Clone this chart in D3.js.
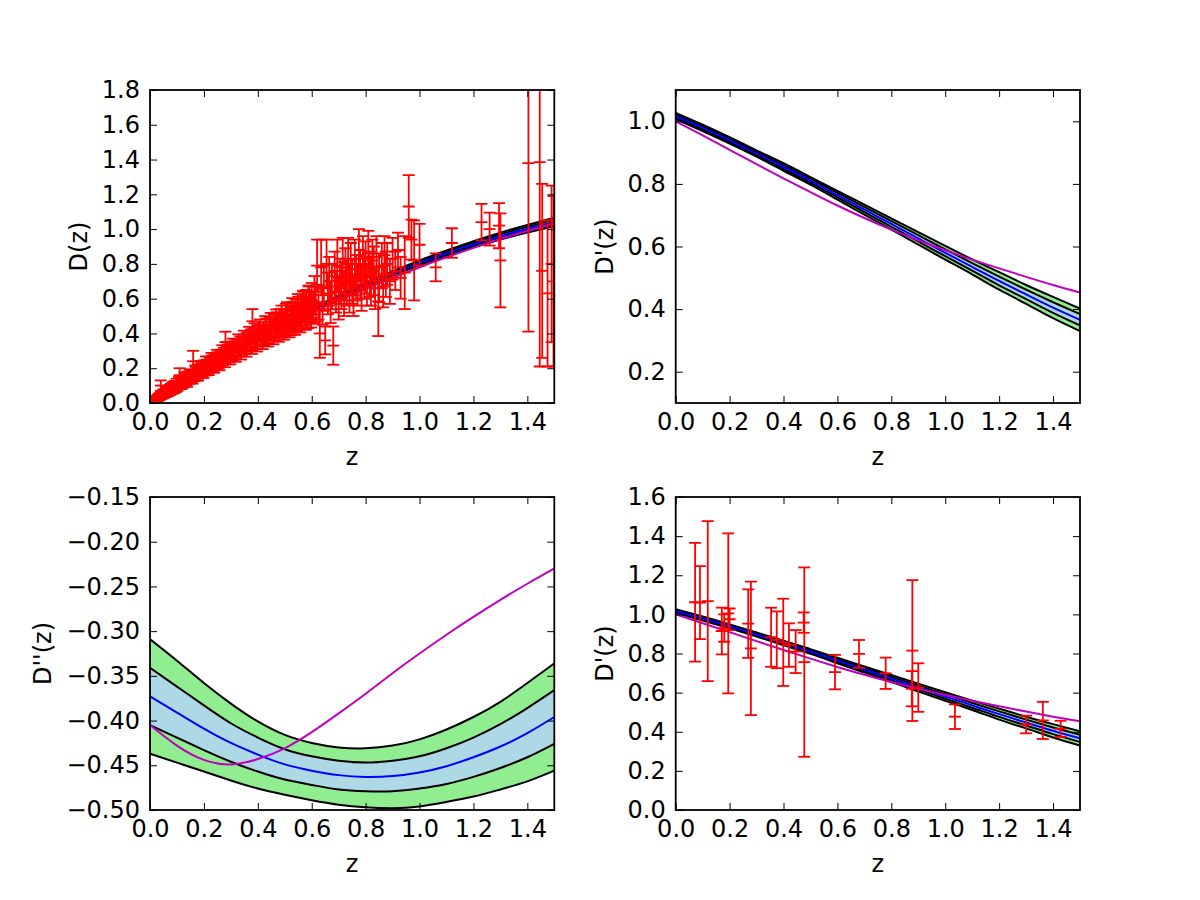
<!DOCTYPE html>
<html>
<head>
<meta charset="utf-8">
<title>D(z) reconstruction</title>
<script src="https://cdn.jsdelivr.net/npm/d3@7"></script>
<style>
  body { margin: 0; background: #fff; }
  svg { font-family: "DejaVu Sans", sans-serif; }
</style>
</head>
<body>
<svg id="fig" width="1200" height="900"></svg>
<script>
// redshift grid the reconstructions are sampled on
var zGrid = [0.0, 0.1, 0.2, 0.3, 0.4, 0.5, 0.6, 0.7, 0.8, 0.9, 1.0, 1.1, 1.2, 1.3, 1.4, 1.5];

// D(z): 2-sigma / 1-sigma bands, median and model
var dU2  = [0, 0.101, 0.198, 0.290, 0.379, 0.464, 0.543, 0.619, 0.690, 0.757, 0.820, 0.877, 0.931, 0.980, 1.024, 1.065];
var dU1  = [0, 0.1005, 0.197, 0.2885, 0.377, 0.461, 0.540, 0.615, 0.685, 0.751, 0.813, 0.869, 0.922, 0.970, 1.013, 1.053];
var dMed = [0, 0.100, 0.196, 0.287, 0.375, 0.458, 0.537, 0.611, 0.680, 0.745, 0.806, 0.861, 0.913, 0.960, 1.002, 1.041];
var dL1  = [0, 0.0995, 0.195, 0.2855, 0.373, 0.455, 0.534, 0.607, 0.675, 0.739, 0.799, 0.853, 0.904, 0.950, 0.991, 1.029];
var dL2  = [0, 0.099, 0.194, 0.284, 0.371, 0.452, 0.531, 0.603, 0.670, 0.733, 0.792, 0.845, 0.895, 0.940, 0.980, 1.017];
var dModel = [0, 0.098, 0.191, 0.279, 0.363, 0.443, 0.518, 0.589, 0.657, 0.720, 0.781, 0.838, 0.892, 0.943, 0.989, 1.033];

// D'(z)
var dpU2  = [1.027, 0.989, 0.949, 0.907, 0.866, 0.822, 0.778, 0.734, 0.690, 0.646, 0.602, 0.559, 0.518, 0.477, 0.439, 0.402];
var dpU1  = [1.022, 0.984, 0.944, 0.902, 0.860, 0.816, 0.771, 0.726, 0.681, 0.636, 0.591, 0.547, 0.504, 0.462, 0.422, 0.384];
var dpMed = [1.017, 0.979, 0.939, 0.897, 0.854, 0.810, 0.764, 0.718, 0.672, 0.626, 0.580, 0.535, 0.490, 0.447, 0.405, 0.366];
var dpL1  = [1.012, 0.974, 0.934, 0.892, 0.848, 0.804, 0.757, 0.710, 0.663, 0.616, 0.569, 0.523, 0.476, 0.432, 0.388, 0.348];
var dpL2  = [1.007, 0.969, 0.929, 0.887, 0.842, 0.798, 0.750, 0.702, 0.654, 0.606, 0.558, 0.511, 0.462, 0.417, 0.371, 0.330];
var dpModel = [1.000, 0.955, 0.909, 0.863, 0.818, 0.774, 0.731, 0.691, 0.654, 0.620, 0.588, 0.558, 0.530, 0.503, 0.477, 0.453];

// D''(z)
var ddpU2  = [-0.309, -0.333, -0.358, -0.381, -0.401, -0.416, -0.425, -0.430, -0.431, -0.428, -0.421, -0.410, -0.396, -0.379, -0.358, -0.336];
var ddpU1  = [-0.341, -0.362, -0.383, -0.403, -0.419, -0.432, -0.440, -0.445, -0.447, -0.445, -0.440, -0.431, -0.419, -0.404, -0.386, -0.366];
var ddpMed = [-0.373, -0.391, -0.409, -0.425, -0.438, -0.449, -0.456, -0.461, -0.463, -0.462, -0.458, -0.451, -0.441, -0.429, -0.414, -0.396];
var ddpL1  = [-0.405, -0.419, -0.433, -0.446, -0.457, -0.466, -0.472, -0.477, -0.479, -0.479, -0.476, -0.471, -0.463, -0.453, -0.441, -0.426];
var ddpL2  = [-0.437, -0.447, -0.457, -0.467, -0.476, -0.483, -0.489, -0.494, -0.497, -0.498, -0.496, -0.491, -0.485, -0.477, -0.468, -0.456];
var ddpModel = [-0.405, -0.428, -0.444, -0.449, -0.443, -0.431, -0.413, -0.392, -0.370, -0.347, -0.325, -0.304, -0.284, -0.265, -0.247, -0.230];

// supernova distances [z, D, sigma]
var sneData = [
  [0.012,0.010,0.008],[0.015,0.016,0.012],[0.017,0.014,0.010],[0.019,0.017,0.010],[0.020,0.022,0.012],
  [0.022,0.019,0.011],[0.024,0.026,0.013],[0.026,0.023,0.012],[0.027,0.028,0.011],[0.028,0.031,0.014],
  [0.030,0.027,0.013],[0.032,0.035,0.015],[0.033,0.038,0.014],[0.034,0.030,0.013],[0.036,0.041,0.016],
  [0.038,0.034,0.014],[0.040,0.100,0.030],[0.042,0.046,0.015],[0.043,0.039,0.015],[0.045,0.050,0.018],
  [0.047,0.041,0.014],[0.048,0.045,0.016],[0.050,0.057,0.020],[0.052,0.056,0.016],[0.053,0.049,0.017],
  [0.056,0.061,0.019],[0.058,0.052,0.018],[0.060,0.070,0.020],[0.061,0.066,0.021],[0.064,0.058,0.019],
  [0.066,0.072,0.023],[0.067,0.061,0.018],[0.069,0.063,0.020],[0.072,0.077,0.022],[0.073,0.082,0.022],
  [0.075,0.068,0.021],[0.078,0.085,0.025],[0.081,0.074,0.022],[0.083,0.088,0.021],[0.085,0.094,0.026],
  [0.088,0.079,0.023],[0.090,0.097,0.024],[0.092,0.101,0.027],[0.095,0.086,0.024],[0.097,0.092,0.026],
  [0.099,0.110,0.030],[0.102,0.095,0.025],[0.105,0.104,0.020],[0.108,0.122,0.028],[0.110,0.160,0.040],
  [0.115,0.110,0.030],[0.118,0.108,0.024],[0.120,0.125,0.022],[0.125,0.117,0.028],[0.128,0.146,0.030],
  [0.130,0.138,0.030],[0.135,0.128,0.025],[0.138,0.121,0.028],[0.140,0.145,0.035],[0.145,0.137,0.026],
  [0.148,0.162,0.032],[0.150,0.155,0.030],[0.155,0.147,0.030],[0.158,0.141,0.030],[0.160,0.240,0.060],
  [0.165,0.156,0.030],[0.168,0.182,0.034],[0.170,0.175,0.032],[0.175,0.166,0.030],[0.178,0.160,0.032],
  [0.180,0.186,0.035],[0.185,0.176,0.030],[0.188,0.206,0.036],[0.190,0.195,0.035],[0.195,0.186,0.033],
  [0.198,0.178,0.034],[0.200,0.205,0.040],[0.205,0.194,0.035],[0.208,0.228,0.040],[0.210,0.213,0.036],
  [0.215,0.203,0.035],[0.218,0.196,0.036],[0.220,0.222,0.040],[0.225,0.213,0.037],[0.228,0.246,0.042],
  [0.230,0.232,0.040],[0.235,0.220,0.038],[0.238,0.214,0.040],[0.240,0.240,0.040],[0.245,0.232,0.040],
  [0.248,0.262,0.044],[0.250,0.247,0.045],[0.255,0.238,0.040],[0.258,0.230,0.042],[0.260,0.256,0.045],
  [0.265,0.262,0.040],[0.268,0.284,0.048],[0.270,0.262,0.045],[0.275,0.272,0.045],[0.278,0.250,0.044],
  [0.280,0.350,0.060],[0.285,0.282,0.045],[0.288,0.300,0.050],[0.290,0.287,0.050],[0.295,0.279,0.045],
  [0.298,0.268,0.046],[0.300,0.296,0.050],[0.305,0.289,0.045],[0.308,0.318,0.052],[0.310,0.305,0.050],
  [0.315,0.298,0.048],[0.318,0.285,0.048],[0.320,0.316,0.050],[0.328,0.340,0.055],[0.330,0.318,0.050],
  [0.335,0.328,0.055],[0.338,0.300,0.050],[0.340,0.322,0.050],[0.348,0.360,0.056],[0.350,0.340,0.055],
  [0.355,0.333,0.050],[0.358,0.318,0.052],[0.360,0.350,0.055],[0.368,0.380,0.058],[0.370,0.352,0.055],
  [0.375,0.364,0.060],[0.378,0.336,0.054],[0.380,0.470,0.070],[0.388,0.398,0.060],[0.390,0.372,0.060],
  [0.395,0.366,0.055],[0.398,0.352,0.056],[0.400,0.384,0.060],[0.408,0.418,0.062],[0.410,0.392,0.060],
  [0.418,0.368,0.058],[0.420,0.400,0.065],[0.425,0.386,0.055],[0.428,0.436,0.064],[0.430,0.415,0.070],
  [0.438,0.385,0.060],[0.440,0.405,0.060],[0.445,0.428,0.065],[0.448,0.452,0.066],[0.450,0.418,0.060],
  [0.458,0.400,0.062],[0.460,0.440,0.070],[0.465,0.425,0.065],[0.468,0.470,0.068],[0.470,0.452,0.070],
  [0.475,0.440,0.065],[0.478,0.416,0.064],[0.480,0.465,0.075],[0.488,0.490,0.070],[0.490,0.447,0.070],
  [0.495,0.472,0.070],[0.498,0.430,0.066],[0.500,0.458,0.075],[0.505,0.490,0.080],[0.508,0.508,0.072],
  [0.510,0.465,0.070],[0.518,0.446,0.068],[0.520,0.485,0.075],[0.525,0.470,0.080],[0.528,0.528,0.075],
  [0.530,0.500,0.080],[0.535,0.480,0.075],[0.538,0.462,0.070],[0.540,0.510,0.085],[0.545,0.490,0.080],
  [0.548,0.548,0.078],[0.550,0.525,0.085],[0.555,0.500,0.080],[0.558,0.478,0.072],[0.560,0.535,0.090],
  [0.565,0.515,0.085],[0.568,0.566,0.080],[0.570,0.550,0.090],[0.575,0.530,0.085],[0.578,0.496,0.075],
  [0.580,0.560,0.090],[0.585,0.520,0.090],[0.588,0.590,0.085],[0.590,0.575,0.095],[0.595,0.545,0.090],
  [0.598,0.512,0.078],[0.600,0.590,0.100],[0.605,0.550,0.090],[0.610,0.620,0.110],[0.615,0.570,0.100],
  [0.620,0.790,0.150],[0.625,0.580,0.100],[0.630,0.400,0.140],[0.635,0.780,0.160],[0.640,0.560,0.110],
  [0.645,0.660,0.130],[0.650,0.360,0.080],[0.655,0.800,0.140],[0.660,0.630,0.120],[0.665,0.700,0.140],
  [0.670,0.580,0.120],[0.675,0.670,0.130],[0.680,0.330,0.110],[0.685,0.730,0.140],[0.690,0.640,0.120],
  [0.695,0.790,0.150],[0.700,0.600,0.120],[0.705,0.700,0.130],[0.710,0.660,0.120],[0.715,0.810,0.140],
  [0.720,0.630,0.130],[0.725,0.740,0.150],[0.730,0.680,0.120],[0.735,0.820,0.130],[0.740,0.660,0.140],
  [0.745,0.770,0.150],[0.750,0.700,0.130],[0.755,0.620,0.120],[0.760,0.800,0.140],[0.765,0.720,0.130],
  [0.770,0.680,0.120],[0.775,0.850,0.150],[0.780,0.740,0.140],[0.785,0.660,0.130],[0.790,0.830,0.130],
  [0.795,0.720,0.120],[0.800,0.780,0.150],[0.805,0.680,0.120],[0.810,0.860,0.130],[0.815,0.740,0.130],
  [0.820,0.700,0.140],[0.825,0.820,0.120],[0.830,0.760,0.140],[0.835,0.660,0.120],[0.840,0.840,0.120],
  [0.847,0.585,0.200],[0.850,0.720,0.140],[0.860,0.790,0.130],[0.865,0.670,0.120],[0.870,0.850,0.110],
  [0.875,0.740,0.130],[0.880,0.800,0.120],[0.890,0.700,0.130],[0.900,0.830,0.120],[0.910,0.760,0.110],
  [0.920,0.880,0.100],[0.930,0.720,0.120],[0.945,0.750,0.210],[0.960,1.130,0.180],[0.970,0.940,0.115],
  [0.980,0.820,0.230],[1.000,0.910,0.120],[1.060,0.780,0.080],[1.120,0.920,0.085],[1.230,1.040,0.105],
  [1.260,1.000,0.095],[1.295,1.020,0.130],[1.300,0.820,0.270],[1.404,1.380,0.970],[1.446,1.385,1.175],
  [1.455,0.760,0.500],[1.475,0.630,0.420],[1.490,0.800,0.450],[1.497,0.700,0.490]
];

// D'(z) measurements [z, D', sigma]
var hzData = [
  [0.072,1.062,0.304],[0.090,1.060,0.187],[0.119,1.068,0.409],[0.171,0.915,0.119],[0.180,0.930,0.070],
  [0.195,1.005,0.409],[0.200,0.975,0.055],[0.269,0.953,0.175],[0.279,0.826,0.341],[0.354,0.883,0.151],
  [0.375,0.870,0.145],[0.399,0.857,0.223],[0.420,0.843,0.111],[0.445,0.810,0.110],[0.475,0.958,0.052],
  [0.477,0.756,0.484],[0.591,0.705,0.088],[0.680,0.798,0.071],[0.779,0.699,0.080],[0.876,0.620,0.090],
  [0.878,0.815,0.360],[0.900,0.626,0.124],[1.036,0.477,0.063],[1.300,0.437,0.045],[1.362,0.458,0.095],
  [1.428,0.415,0.041]
];

// tick values
var zTicks = [0.0, 0.2, 0.4, 0.6, 0.8, 1.0, 1.2, 1.4];
var dTicks = [0.0, 0.2, 0.4, 0.6, 0.8, 1.0, 1.2, 1.4, 1.6, 1.8];
var dpTicksTop = [0.2, 0.4, 0.6, 0.8, 1.0];
var ddpTicks = [-0.50, -0.45, -0.40, -0.35, -0.30, -0.25, -0.20, -0.15];
var dpTicksBottom = [0.0, 0.2, 0.4, 0.6, 0.8, 1.0, 1.2, 1.4, 1.6];

var svg = d3.select("#fig");
var pw = 404.3, ph = 313;
var fontSize = 24;

function panel(cfg) {
  var g = svg.append("g").attr("transform", "translate(" + cfg.left + "," + cfg.top + ")");
  var x = d3.scaleLinear().domain([0, 1.5]).range([0, pw]);
  var y = d3.scaleLinear().domain(cfg.yDomain).range([ph, 0]);

  g.append("clipPath").attr("id", "clip-" + cfg.id)
    .append("rect").attr("width", pw).attr("height", ph);
  var plot = g.append("g").attr("clip-path", "url(#clip-" + cfg.id + ")");

  var rows = zGrid.map(function(z, i) {
    return {z: z, u2: cfg.u2[i], u1: cfg.u1[i], m: cfg.med[i], l1: cfg.l1[i], l2: cfg.l2[i], mod: cfg.model[i]};
  });
  var crv = d3.curveNatural;

  function band(lo, hi) {
    return d3.area().curve(crv).x(function(d) { return x(d.z); })
      .y0(function(d) { return y(d[lo]); }).y1(function(d) { return y(d[hi]); });
  }
  function line(key) {
    return d3.line().curve(crv).x(function(d) { return x(d.z); }).y(function(d) { return y(d[key]); });
  }

  plot.append("path").datum(rows).attr("d", band("l2", "u2")).attr("fill", "#90ee90");
  plot.append("path").datum(rows).attr("d", band("l1", "u1")).attr("fill", "#add8e6");
  ["u2", "u1", "l1", "l2"].forEach(function(k) {
    plot.append("path").datum(rows).attr("d", line(k))
      .attr("fill", "none").attr("stroke", "#000").attr("stroke-width", 2);
  });
  plot.append("path").datum(rows).attr("d", line("m"))
    .attr("fill", "none").attr("stroke", "#0000ff").attr("stroke-width", 2);
  plot.append("path").datum(rows).attr("d", line("mod"))
    .attr("fill", "none").attr("stroke", "#bf00bf").attr("stroke-width", 2);

  if (cfg.data) {
    var cap = 6;
    var eb = plot.append("g").attr("stroke", "#ff0000").attr("stroke-width", 1.8)
      .selectAll("g").data(cfg.data).join("g");
    eb.append("line")
      .attr("x1", function(d) { return x(d[0]); }).attr("x2", function(d) { return x(d[0]); })
      .attr("y1", function(d) { return y(d[1] - d[2]); }).attr("y2", function(d) { return y(d[1] + d[2]); });
    [-1, 0, 1].forEach(function(s) {
      eb.append("line")
        .attr("x1", function(d) { return x(d[0]) - cap; }).attr("x2", function(d) { return x(d[0]) + cap; })
        .attr("y1", function(d) { return y(d[1] + s * d[2]); }).attr("y2", function(d) { return y(d[1] + s * d[2]); });
    });
  }

  // inward ticks on all four sides, labels bottom and left
  var fx = d3.format(".1f");
  function styleAxis(a) {
    a.select(".domain").remove();
    a.attr("font-size", null).attr("font-family", null);
    a.selectAll("line").attr("stroke", "#000").attr("stroke-width", 1);
    a.selectAll("text").attr("fill", "#000").style("font-size", fontSize + "px");
  }
  g.append("g").attr("transform", "translate(0," + ph + ")")
    .call(d3.axisBottom(x).tickValues(zTicks).tickFormat(fx).tickSizeInner(-7).tickSizeOuter(0).tickPadding(10))
    .call(styleAxis);
  g.append("g")
    .call(d3.axisTop(x).tickValues(zTicks).tickFormat("").tickSizeInner(-7).tickSizeOuter(0))
    .call(styleAxis);
  var leftAxis = g.append("g")
    .call(d3.axisLeft(y).tickValues(cfg.yTicks).tickFormat(d3.format(cfg.yFmt)).tickSizeInner(-7).tickSizeOuter(0).tickPadding(10))
    .call(styleAxis);
  g.append("g").attr("transform", "translate(" + pw + ",0)")
    .call(d3.axisRight(y).tickValues(cfg.yTicks).tickFormat("").tickSizeInner(-7).tickSizeOuter(0))
    .call(styleAxis);

  g.append("rect").attr("width", pw).attr("height", ph)
    .attr("fill", "none").attr("stroke", "#000").attr("stroke-width", 1.8);

  g.append("text").attr("x", pw / 2).attr("y", ph + 62).attr("text-anchor", "middle")
    .style("font-size", fontSize + "px").text("z");

  var bb = leftAxis.node().getBBox();
  g.append("text")
    .attr("transform", "translate(" + (bb.x - 15) + "," + (ph / 2) + ") rotate(-90)")
    .attr("text-anchor", "middle").style("font-size", fontSize + "px").text(cfg.ylabel);
}

panel({id: "d", left: 150, top: 90, yDomain: [0, 1.8], yTicks: dTicks, yFmt: ".1f", ylabel: "D(z)",
  u2: dU2, u1: dU1, med: dMed, l1: dL1, l2: dL2, model: dModel, data: sneData});
panel({id: "dp", left: 675.7, top: 90, yDomain: [0.1, 1.1], yTicks: dpTicksTop, yFmt: ".1f", ylabel: "D'(z)",
  u2: dpU2, u1: dpU1, med: dpMed, l1: dpL1, l2: dpL2, model: dpModel});
panel({id: "ddp", left: 150, top: 497, yDomain: [-0.5, -0.15], yTicks: ddpTicks, yFmt: ".2f", ylabel: "D''(z)",
  u2: ddpU2, u1: ddpU1, med: ddpMed, l1: ddpL1, l2: ddpL2, model: ddpModel});
panel({id: "hz", left: 675.7, top: 497, yDomain: [0, 1.6], yTicks: dpTicksBottom, yFmt: ".1f", ylabel: "D'(z)",
  u2: dpU2, u1: dpU1, med: dpMed, l1: dpL1, l2: dpL2, model: dpModel, data: hzData});
</script>
</body>
</html>
